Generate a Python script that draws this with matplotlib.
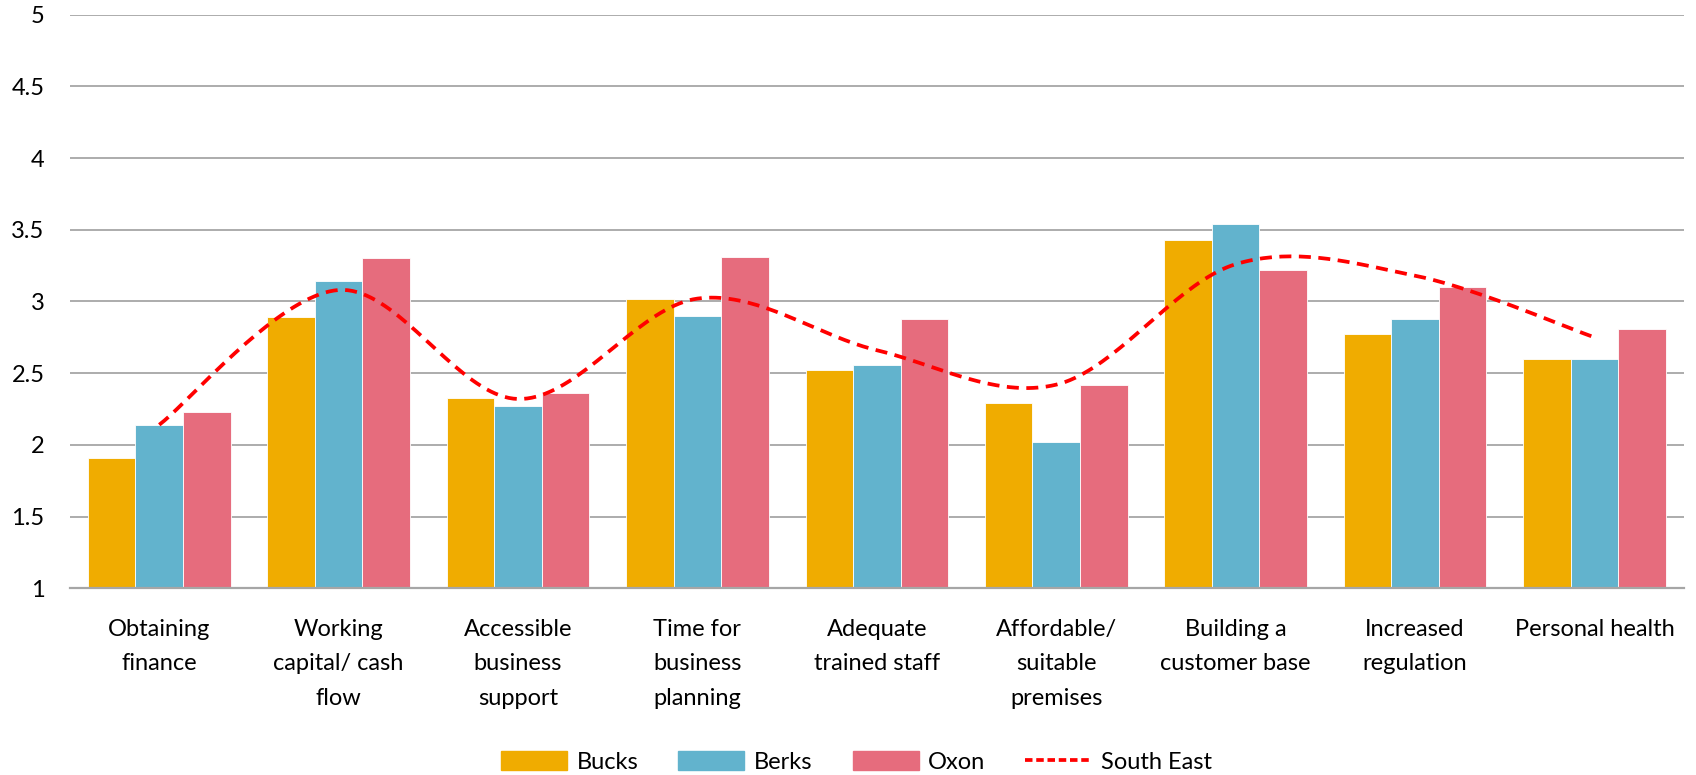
import numpy as np
import matplotlib
matplotlib.use("Agg")
import matplotlib.pyplot as plt
from matplotlib.patches import Patch
from matplotlib.lines import Line2D

categories = ["Obtaining\nfinance", "Working\ncapital/ cash\nflow", "Accessible\nbusiness\nsupport",
              "Time for\nbusiness\nplanning", "Adequate\ntrained staff", "Affordable/\nsuitable\npremises",
              "Building a\ncustomer base", "Increased\nregulation", "Personal health"]
bucks = [1.91, 2.89, 2.33, 3.02, 2.52, 2.29, 3.43, 2.77, 2.60]
berks = [2.14, 3.14, 2.27, 2.90, 2.56, 2.02, 3.54, 2.88, 2.60]
oxon = [2.23, 3.30, 2.36, 3.31, 2.88, 2.42, 3.22, 3.10, 2.81]
south_east = [2.14, 3.08, 2.32, 3.02, 2.66, 2.42, 3.26, 3.18, 2.75]
yticks = [1, 1.5, 2, 2.5, 3, 3.5, 4, 4.5, 5]
ytick_labels = ["1", "1.5", "2", "2.5", "3", "3.5", "4", "4.5", "5"]

plt.rcParams['font.family'] = ['Lato', 'DejaVu Sans']

fig = plt.figure(figsize=(16.96, 7.75), dpi=100)
ax = fig.add_axes([0.041, 0.241, 0.952, 0.740])

x = np.arange(len(categories))
w = 0.265
cols = ["#F0AC00", "#62B3CD", "#E66C7D"]
for i, (vals, c) in enumerate(zip([bucks, berks, oxon], cols)):
    ax.bar(x + (i - 1) * w, np.array(vals) - 1, width=w, bottom=1, color=c,
           edgecolor="white", linewidth=0.6, zorder=2)

# Excel-style smoothed line (Catmull-Rom as cubic Bezier)
px = x.astype(float)
py = np.array(south_east, dtype=float)
n = len(px)
cx, cy = [], []
t = np.linspace(0, 1, 40)
for i in range(n - 1):
    p0 = np.array([px[i], py[i]])
    p3 = np.array([px[i + 1], py[i + 1]])
    pm = np.array([px[max(i - 1, 0)], py[max(i - 1, 0)]])
    pp = np.array([px[min(i + 2, n - 1)], py[min(i + 2, n - 1)]])
    p1 = p0 + (p3 - pm) / 6
    p2 = p3 - (pp - p0) / 6
    b = ((1 - t) ** 3)[:, None] * p0 + (3 * (1 - t) ** 2 * t)[:, None] * p1 + \
        (3 * (1 - t) * t ** 2)[:, None] * p2 + (t ** 3)[:, None] * p3
    cx.extend(b[:, 0]); cy.extend(b[:, 1])
ax.plot(cx, cy, color="#FF0000", linestyle=(0, (3.2, 2)), linewidth=2.7, zorder=3)

ax.set_xlim(-0.5, len(categories) - 0.5)
ax.set_ylim(1, 5)
ax.set_yticks(yticks)
ax.set_yticklabels(ytick_labels)
ax.set_xticks(x)
ax.set_xticklabels(categories, linespacing=1.8, va="top")
ax.tick_params(axis="both", length=0, labelsize=17, colors="black")
ax.tick_params(axis="x", pad=22)
ax.tick_params(axis="y", pad=18)
for lab in ax.get_yticklabels():
    lab.set_horizontalalignment("right")
ax.yaxis.grid(True, color="#A6A6A6", linewidth=1.3, zorder=0)
ax.set_axisbelow(True)
for s in ["top", "right", "left"]:
    ax.spines[s].set_visible(False)
ax.spines["bottom"].set_color("#A6A6A6")
ax.spines["bottom"].set_linewidth(1.6)

handles = [Patch(color=cols[0], label="Bucks"), Patch(color=cols[1], label="Berks"),
           Patch(color=cols[2], label="Oxon"),
           Line2D([0], [0], color="#FF0000", linestyle=(0, (2, 1)), linewidth=2.7, label="South East")]
fig.legend(handles=handles, loc="center", bbox_to_anchor=(0.505, 0.017), ncol=4, frameon=False,
           fontsize=17, handlelength=2.8, handleheight=0.9, columnspacing=1.7, handletextpad=0.4)

fig.savefig("out.png", dpi=100)
